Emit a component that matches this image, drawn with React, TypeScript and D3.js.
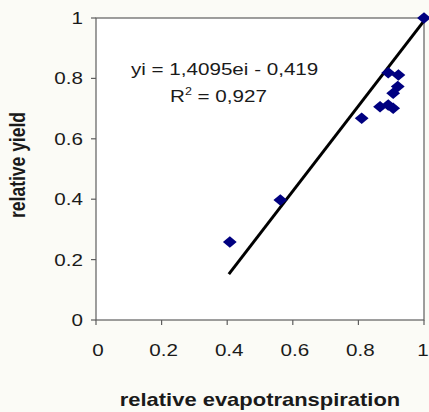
import React from "react";
import * as d3 from "d3";

const relET = [0.408, 0.562, 0.81, 0.866, 0.891, 0.906, 0.906, 0.92, 0.891, 0.922, 1.0];
const relYield = [0.258, 0.397, 0.668, 0.706, 0.712, 0.701, 0.751, 0.773, 0.819, 0.811, 1.0];
const xTicks = [0, 0.2, 0.4, 0.6, 0.8, 1];
const yTicks = [0, 0.2, 0.4, 0.6, 0.8, 1];
const trendSlope = 1.4095;
const trendIntercept = -0.419;
const trendRange = [0.405, 1.0];
const eqLabel = "yi = 1,4095ei - 0,419";
const r2Value = "0,927";
const xTitle = "relative evapotranspiration";
const yTitle = "relative yield";

const W = 429;
const H = 412;
const left = 96;
const right = 424;
const top = 18;
const bottom = 320;
const SX = 1.25; // horizontal stretch of the original rendering

export default function App() {
  const x = d3.scaleLinear().domain([0, 1]).range([left, right]);
  const y = d3.scaleLinear().domain([0, 1]).range([bottom, top]);
  const diamond = d3.symbol().type(d3.symbolSquare).size(66)() as string;
  const line = d3
    .line<number>()
    .x((d) => x(d))
    .y((d) => y(trendSlope * d + trendIntercept));
  const axisColor = "#5e5e5e";
  const labelColor = "#1a1a1a";
  const fmt = d3.format("");
  return (
    <svg
      width={W}
      height={H}
      style={{ position: "fixed", left: 0, top: 0 }}
      fontFamily="Arial, 'Liberation Sans', sans-serif"
    >
      <rect x={0} y={0} width={W} height={H} fill="#fbfbf6" />
      <rect x={left} y={top} width={right - left} height={bottom - top} fill="#ffffff" stroke={axisColor} strokeWidth={1.2} />
      {yTicks.map((t) => (
        <g key={"y" + t}>
          <line x1={left - 5} x2={left} y1={y(t)} y2={y(t)} stroke={axisColor} strokeWidth={1.2} />
          <text transform={`translate(83,${y(t)}) scale(${SX},1)`} dy="0.36em" textAnchor="end" fontSize={16.5} fill={labelColor}>
            {fmt(t)}
          </text>
        </g>
      ))}
      {xTicks.map((t) => (
        <g key={"x" + t}>
          <line x1={x(t)} x2={x(t)} y1={bottom} y2={bottom + 5} stroke={axisColor} strokeWidth={1.2} />
          <text transform={`translate(${Math.min(x(t) + 2, 423)},356) scale(${SX},1)`} textAnchor="middle" fontSize={16.5} fill={labelColor}>
            {fmt(t)}
          </text>
        </g>
      ))}
      <path d={line(trendRange) as string} stroke="#000" strokeWidth={3} fill="none" />
      {relET.map((v, i) => (
        <path
          key={i}
          d={diamond}
          transform={`translate(${x(v)},${y(relYield[i])}) scale(1.2,1) rotate(45)`}
          fill="#000080"
        />
      ))}
      <text transform={`translate(131,75) scale(${SX},1)`} fontSize={16.5} fill={labelColor}>
        {eqLabel}
      </text>
      <text transform={`translate(170,102) scale(${SX},1)`} fontSize={16.5} fill={labelColor}>
        R<tspan fontSize={10} dy={-7}>2</tspan>
        <tspan dy={7}>{" = " + r2Value}</tspan>
      </text>
      <text
        transform={`translate(25,165) scale(${SX},1) rotate(-90)`}
        textAnchor="middle"
        fontSize={17.5}
        fontWeight="bold"
        fill={labelColor}
      >
        {yTitle}
      </text>
      <text
        transform={`translate(260,406) scale(1.22,1)`}
        textAnchor="middle"
        fontSize={18}
        fontWeight="bold"
        fill={labelColor}
      >
        {xTitle}
      </text>
    </svg>
  );
}
